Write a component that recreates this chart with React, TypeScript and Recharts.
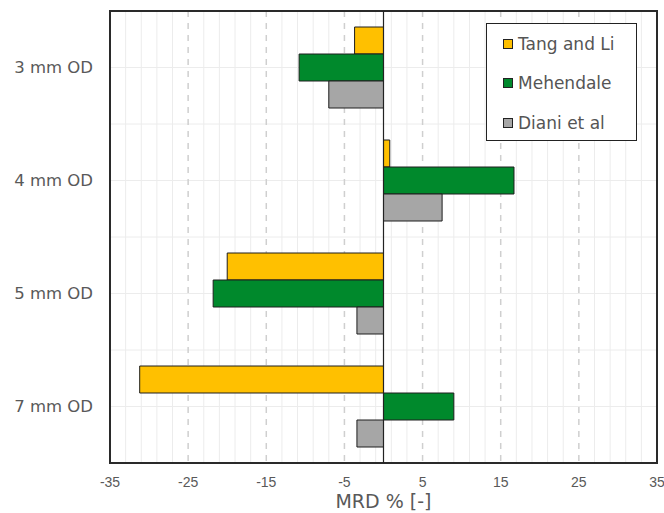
import React from "react";
import {
  BarChart,
  Bar,
  XAxis,
  YAxis,
  CartesianGrid,
  ReferenceLine,
  ReferenceArea,
} from "recharts";

const categories = ["3 mm OD", "4 mm OD", "5 mm OD", "7 mm OD"];
const tangLi = [-3.7, 0.8, -20.0, -31.2];
const mehendale = [-10.8, 16.7, -21.8, 9.0];
const dianiEtAl = [-7.0, 7.5, -3.4, -3.4];
const xTicks = [-35, -25, -15, -5, 5, 15, 25, 35];
const minorTicks = [-33, -31, -29, -27, -23, -21, -19, -17, -13, -11, -9, -7, -3, -1, 1, 3, 7, 9, 11, 13, 17, 19, 21, 23, 27, 29, 31, 33];
const majorGrid = [-25, -15, -5, 5, 15, 25];

const series = [
  { key: "tang", name: "Tang and Li", color: "#FFC000" },
  { key: "mehendale", name: "Mehendale", color: "#00892C" },
  { key: "diani", name: "Diani et al", color: "#A6A6A6" },
];

const data = categories.map((c, i) => ({
  category: c,
  tang: tangLi[i],
  mehendale: mehendale[i],
  diani: dianiEtAl[i],
}));

const FONT = "'DejaVu Sans', sans-serif";
const TICK_FONT = "'Liberation Sans', Arial, sans-serif";
const X_MIN = xTicks[0];
const X_MAX = xTicks[xTicks.length - 1];

const toX = (offset: any, v: number) => offset.left + ((v - X_MIN) / (X_MAX - X_MIN)) * offset.width;

const LegendBox = () => (
  <div
    style={{
      position: "absolute",
      left: 478,
      top: 15,
      border: "1.5px solid #222",
      background: "#fff",
      width: 151,
      height: 118,
      boxSizing: "border-box",
      padding: "0px 0 0 16px",
      fontFamily: FONT,
      fontSize: 17,
      color: "#555",
    }}
  >
    {series.map((s) => (
      <div key={s.key} style={{ display: "flex", alignItems: "center", height: 39.3, marginTop: s.key === "tang" ? 0.5 : 0 }}>
        <span
          style={{
            display: "inline-block",
            width: 8,
            height: 8,
            background: s.color,
            border: "1px solid #222",
            marginRight: 5,
            flex: "none",
          }}
        />
        <span>{s.name}</span>
      </div>
    ))}
  </div>
);

export default function App() {
  return (
    <div style={{ position: "fixed", left: 0, top: 0, width: 664, height: 513, overflow: "hidden", background: "#fff" }}>
      <div style={{ position: "absolute", left: 8, top: 8, width: 656, height: 505 }}>
        <BarChart
          width={656}
          height={505}
          data={data}
          layout="vertical"
          margin={{ top: 3, right: 7, bottom: 0, left: 0 }}
          barSize={27}
          barGap={0}
          style={{ fontFamily: FONT }}
        >
          <CartesianGrid
            stroke="#ececec"
            strokeWidth={1}
            horizontalCoordinatesGenerator={({ offset }: any) => {
              const res: number[] = [];
              for (let k = 1; k < categories.length * 2; k++) {
                res.push(offset.top + (k * offset.height) / (categories.length * 2));
              }
              return res;
            }}
            verticalCoordinatesGenerator={({ offset }: any) => minorTicks.map((v) => toX(offset, v))}
          />
          <CartesianGrid
            stroke="#cfcfcf"
            strokeWidth={1.5}
            strokeDasharray="6 6"
            horizontal={false}
            verticalCoordinatesGenerator={({ offset }: any) => majorGrid.map((v) => toX(offset, v))}
          />
          <XAxis
            type="number"
            domain={[X_MIN, X_MAX]}
            ticks={xTicks}
            interval={0}
            tickLine={false}
            axisLine={false}
            tickSize={6}
            tickMargin={8}
            height={50}
            tick={{ fill: "#595959", fontSize: 14, fontFamily: TICK_FONT }}
            label={{
              value: "MRD % [-]",
              position: "insideBottom",
              offset: 5,
              fill: "#595959",
              fontSize: 19,
              fontFamily: FONT,
            }}
          />
          <YAxis
            type="category"
            dataKey="category"
            width={102}
            tickLine={false}
            axisLine={false}
            tickSize={6}
            tickMargin={11}
            tick={{ fill: "#595959", fontSize: 16.5, fontFamily: FONT }}
          />
          {series.map((s) => (
            <Bar
              key={s.key}
              dataKey={s.key}
              name={s.name}
              fill={s.color}
              stroke="#1e1e1e"
              strokeWidth={1}
              isAnimationActive={false}
            />
          ))}
          <ReferenceLine x={0} stroke="#222" strokeWidth={1.2} />
          <ReferenceArea x1={X_MIN} x2={X_MAX} fill="none" stroke="#2a2a2a" strokeWidth={2} fillOpacity={0} ifOverflow="visible" />
        </BarChart>
        <LegendBox />
      </div>
    </div>
  );
}
